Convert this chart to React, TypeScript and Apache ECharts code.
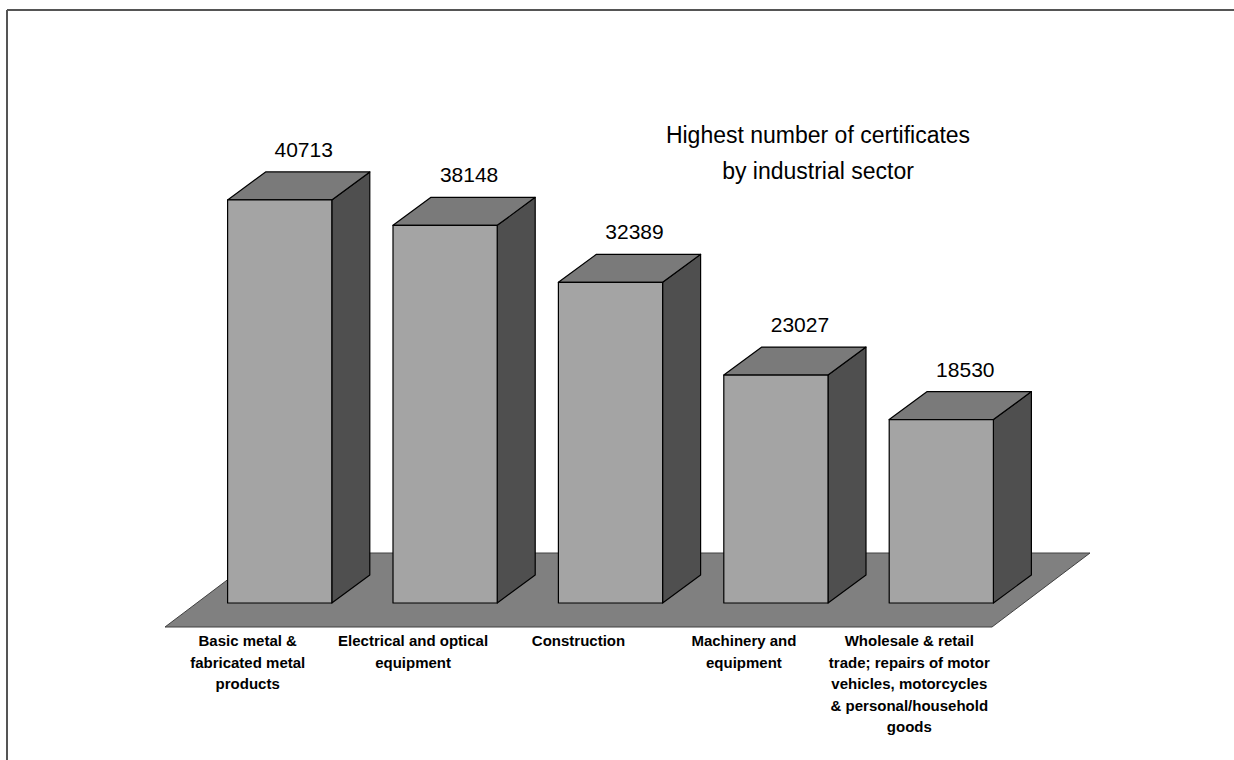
import React, { useEffect, useRef } from "react";
import * as echarts from "echarts";

const categories: string[] = [
  "Basic metal &\nfabricated metal\nproducts",
  "Electrical and optical\nequipment",
  "Construction",
  "Machinery and\nequipment",
  "Wholesale & retail\ntrade; repairs of motor\nvehicles, motorcycles\n& personal/household\ngoods",
];
const values: number[] = [40713, 38148, 32389, 23027, 18530];
const titleLines: string[] = ["Highest number of certificates", "by industrial sector"];

const NARROW = '"Liberation Sans Narrow", "Arial Narrow", "Liberation Sans", Arial, sans-serif';

export default function App() {
  const ref = useRef<HTMLDivElement>(null);
  useEffect(() => {
    if (!ref.current) return;
    const chart = echarts.init(ref.current, null, { renderer: "svg" });
    const FLOOR_DX = 98;
    const FLOOR_DY = -74;
    const OX = 32;
    const OY = -24;
    const DX = 38;
    const DY = -28;
    const option: any = {
      animation: false,
      backgroundColor: "#ffffff",
      grid: { left: 165, right: 242, top: 132, bottom: 133 },
      xAxis: {
        type: "category",
        data: categories,
        axisLine: { show: false },
        axisTick: { show: false },
        splitLine: { show: false },
        axisLabel: {
          interval: 0,
          margin: 3,
          fontFamily: NARROW,
          fontWeight: "bold",
          fontSize: 15,
          lineHeight: 21.5,
          color: "#000",
          align: "center",
          verticalAlign: "top",
        },
      },
      yAxis: { type: "value", min: 0, max: 50000, show: false },
      graphic: [
        { type: "line", shape: { x1: 7, y1: 10, x2: 1234, y2: 10 }, style: { stroke: "#555", lineWidth: 2 } },
        { type: "line", shape: { x1: 7, y1: 10, x2: 7, y2: 760 }, style: { stroke: "#555", lineWidth: 2 } },
        {
          type: "text",
          x: 818,
          y: 117,
          style: {
            text: titleLines.join("\n"),
            textAlign: "center",
            textVerticalAlign: "top",
            fontFamily: NARROW,
            fontSize: 23,
            lineHeight: 36,
            fill: "#000",
          },
        },
      ],
      series: [
        {
          type: "custom",
          z: 1,
          data: [[0, 0]],
          silent: true,
          renderItem: (params: any, api: any) => {
            const cs = params.coordSys;
            const xl = cs.x;
            const xr = cs.x + cs.width;
            const yf = cs.y + cs.height;
            return {
              type: "polygon",
              shape: {
                points: [
                  [xl, yf],
                  [xr, yf],
                  [xr + FLOOR_DX, yf + FLOOR_DY],
                  [xl + FLOOR_DX, yf + FLOOR_DY],
                ],
              },
              style: { fill: "#808080", stroke: "#404040", lineWidth: 1 },
            };
          },
        },
        {
          type: "custom",
          z: 2,
          silent: true,
          data: values.map((v, i) => [i, v]),
          renderItem: (params: any, api: any) => {
            const i = api.value(0);
            const v = api.value(1);
            const base = api.coord([i, 0]);
            const top = api.coord([i, v]);
            const slot = api.size([1, 0])[0];
            const w = slot * 0.63;
            const cx = base[0] + OX;
            const x0 = cx - w / 2;
            const x1 = cx + w / 2;
            const yb = base[1] + OY;
            const yt = top[1] + OY;
            const stroke = { stroke: "#000", lineWidth: 1.2, lineJoin: "round" };
            return {
              type: "group",
              children: [
                {
                  type: "polygon",
                  shape: { points: [[x1, yt], [x1 + DX, yt + DY], [x1 + DX, yb + DY], [x1, yb]] },
                  style: { fill: "#4f4f4f", ...stroke },
                },
                {
                  type: "polygon",
                  shape: { points: [[x0, yt], [x1, yt], [x1 + DX, yt + DY], [x0 + DX, yt + DY]] },
                  style: { fill: "#7a7a7a", ...stroke },
                },
                {
                  type: "rect",
                  shape: { x: x0, y: yt, width: w, height: yb - yt },
                  style: { fill: "#a4a4a4", ...stroke },
                },
                {
                  type: "text",
                  x: cx + DX / 2 + 5,
                  y: yt + DY - 12,
                  style: {
                    text: String(v),
                    textAlign: "center",
                    textVerticalAlign: "bottom",
                    fontFamily: NARROW,
                    fontSize: 21,
                    fill: "#000",
                  },
                },
              ],
            };
          },
        },
      ],
    };
    chart.setOption(option);
    return () => chart.dispose();
  }, []);
  return (
    <div
      ref={ref}
      style={{ position: "fixed", left: 0, top: 0, width: 1234, height: 760, background: "#fff" }}
    />
  );
}
